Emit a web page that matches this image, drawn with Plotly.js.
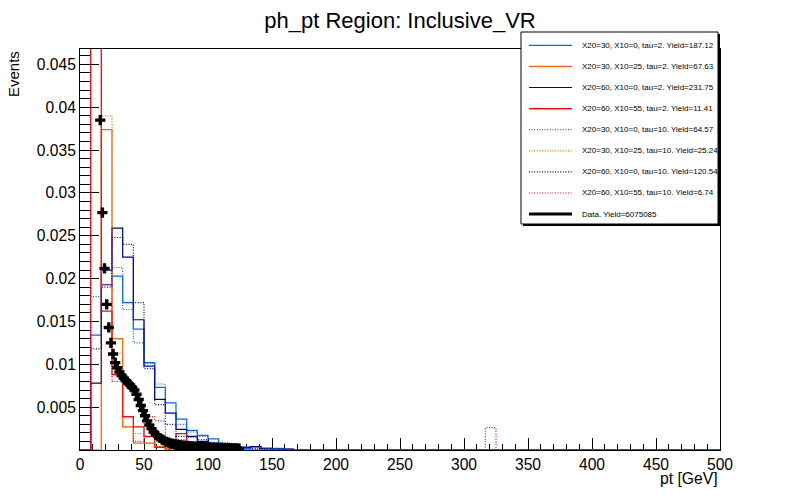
<!DOCTYPE html>
<html>
<head>
<meta charset="utf-8">
<script src="https://cdn.plot.ly/plotly-3.0.1.min.js"></script>
<style>html,body{margin:0;padding:0;background:#fff;}#chart{width:800px;height:500px;}</style>
</head>
<body>
<div id="chart"></div>
<script>
// ---------- data ----------
const xMin = 0, xMax = 500, nBins = 60;          // MC histogram binning
const dataBinWidth = 5 / 3;                      // data histogram binning
const dataFirstBin = 9;

const blueSolid = [0,0.0134,0.0193,0.0203,0.0172,0.0141,0.0102,0.0073,0.0055,0.0036,
  0.0023,0.0017,0.0013,0.0006,0.0004,0.0002,0.0004,0.0002,0.0002,0.0001,
  0,0,0,0,0,0,0,0,0,0, 0,0,0,0,0,0,0,0,0,0, 0,0,0,0,0,0,0,0,0,0, 0,0,0,0,0,0,0,0,0,0];
const orangeSolid = [0,0,0.0374,0.0130,0.0027,0.0008,0.0008,0.0004,0.0002,0.0001,
  0,0,0,0,0,0,0,0,0,0, 0,0,0,0,0,0,0,0,0,0, 0,0,0,0,0,0,0,0,0,0, 0,0,0,0,0,0,0,0,0,0, 0,0,0,0,0,0,0,0,0,0];
const navySolid = [0,0.0078,0.0210,0.0259,0.0225,0.0152,0.0098,0.0059,0.0043,0.0024,
  0.0016,0.0010,0.0007,0.0005,0.0004,0.0003,0.0004,0.0002,0.0001,0.0001,
  0,0,0,0,0,0,0,0,0,0, 0,0,0,0,0,0,0,0,0,0, 0,0,0,0,0,0,0,0,0,0, 0,0,0,0,0,0,0,0,0,0];
const redSolid = [0,0.1,0.0162,0.0088,0.0039,0.0027,0.0016,0.0003,0,0.0019,
  0,0,0,0,0,0,0,0,0,0, 0,0,0,0,0,0,0,0,0,0, 0,0,0,0,0,0,0,0,0,0, 0,0,0,0,0,0,0,0,0,0, 0,0,0,0,0,0,0,0,0,0];
const blueDotted = [0,0.0179,0.0193,0.0213,0.0164,0.0125,0.0101,0.0077,0.0043,0.0030,
  0.0021,0.0016,0.0009,0.0009,0.0005,0.0004,0.0003,0.0002,0.0001,0,
  0,0,0,0,0,0,0,0,0,0, 0,0,0,0,0,0,0,0,0,0, 0,0,0,0,0,0,0,0,0,0, 0,0,0,0,0,0,0,0,0,0];
const orangeDotted = [0,0,0.0390,0.0113,0.0027,0.0019,0.0008,0.0004,0.0002,0.0001,
  0,0,0,0,0,0,0,0,0,0, 0,0,0,0,0,0,0,0,0,0, 0,0,0,0,0,0,0,0,0,0, 0,0,0,0,0,0,0,0,0,0, 0,0,0,0,0,0,0,0,0,0];
const navyDotted = [0,0.0118,0.0190,0.0248,0.0240,0.0172,0.0095,0.0053,0.0030,0.0016,
  0.0015,0.0012,0.0007,0.0005,0.0004,0.0003,0.0002,0.0001,0,0,
  0,0,0,0,0,0,0,0,0,0, 0,0,0,0,0,0,0,0,0,0, 0,0,0,0,0,0,0,0,0,0, 0,0,0,0,0,0,0,0,0,0];
const redDotted = [0,0.1,0.0193,0.0080,0.0039,0.0010,0.0039,0.0034,0,0.0012,
  0,0,0,0,0,0,0,0,0,0, 0,0,0,0,0,0,0,0,0,0, 0,0,0,0,0,0,0,0,0.0026,0, 0,0,0,0,0,0,0,0,0,0, 0,0,0,0,0,0,0,0,0,0];

const dataValues = [0.0385,0.0277,0.0212,0.0170,0.0143,0.0125,0.0112,0.0102,0.0096,0.0091,
  0.0087,0.0084,0.0081,0.0078,0.0076,0.0073,0.0070,0.0065,0.0059,0.0052,
  0.0046,0.0040,0.0034,0.0029,0.0025,0.0021,0.0018,0.0016,0.0014,0.0012,
  0.0011,0.00095,0.00085,0.00078,0.00072,0.00066,0.00062,0.00058,0.00055,0.00052,
  0.00049,0.00047,0.00045,0.00043,0.00041,0.00039,0.00037,0.00036,0.00034,0.00033,
  0.00032,0.00030,0.00029,0.00028,0.00027,0.00026,0.00025,0.00024,0.00023,0.00022,
  0.00021,0.00021,0.00020,0.00019,0.00018,0.00017];

const legendLabels = [
  "X20=30, X10=0, tau=2. Yield=187.12",
  "X20=30, X10=25, tau=2. Yield=67.63",
  "X20=60, X10=0, tau=2. Yield=231.75",
  "X20=60, X10=55, tau=2. Yield=11.41",
  "X20=30, X10=0, tau=10. Yield=64.57",
  "X20=30, X10=25, tau=10. Yield=25.24",
  "X20=60, X10=0, tau=10. Yield=120.54",
  "X20=60, X10=55, tau=10. Yield=6.74",
  "Data. Yield=6075085"
];

const xTickVals = [0,50,100,150,200,250,300,350,400,450,500];
const xTickText = ["0","50","100","150","200","250","300","350","400","450","500"];
const yTickVals = [0.005,0.01,0.015,0.02,0.025,0.03,0.035,0.04,0.045];
const yTickText = ["0.005","0.01","0.015","0.02","0.025","0.03","0.035","0.04","0.045"];

const titleText = "ph_pt Region: Inclusive_VR";
const xTitle = "pt [GeV]";
const yTitle = "Events";

// ---------- styles ----------
const BLUE = "#0066ff", ORANGE = "#ff6600", NAVY = "#000099", RED = "#ff0000";
const DOT = "1px,1.6px";
const FONT = "Liberation Sans, Arial, Helvetica, sans-serif";

const mcSeries = [
  [blueSolid, BLUE, "solid"], [orangeSolid, ORANGE, "solid"],
  [navySolid, NAVY, "solid"], [redSolid, RED, "solid"],
  [blueDotted, BLUE, DOT], [orangeDotted, ORANGE, DOT],
  [navyDotted, NAVY, DOT], [redDotted, RED, DOT]
];

// build step outline from bins
function stepTrace(vals, color, dash, name) {
  const w = (xMax - xMin) / nBins;
  const xs = [xMin], ys = [0];
  for (let i = 0; i < vals.length; i++) { xs.push(xMin + i * w); ys.push(vals[i]); }
  xs.push(xMin + vals.length * w); ys.push(vals[vals.length - 1]);
  xs.push(xMin + vals.length * w); ys.push(0);
  return { type: "scatter", mode: "lines", x: xs, y: ys, name: name,
    line: { shape: "hv", color: color, width: 1.2, dash: dash },
    showlegend: false, hoverinfo: "skip" };
}

const traces = mcSeries.map((s, i) => stepTrace(s[0], s[1], s[2], legendLabels[i]));
const dataX = dataValues.map((v, i) => (dataFirstBin + i + 0.5) * dataBinWidth);
traces.push({ type: "scatter", mode: "markers", x: dataX, y: dataValues, name: legendLabels[8],
  marker: { symbol: "cross", size: 8.5, color: "black", line: { width: 0 } },
  showlegend: false, cliponaxis: true });

// ---------- legend (drawn as shapes + text) ----------
const L = 80, T = 49, PW = 640, PH = 401;
const px = x => (x - L) / PW;
const py = y => (T + PH - y) / PH;
const shapes = [];
const annotations = [];
shapes.push({ type: "rect", xref: "paper", yref: "paper", layer: "above",
  x0: px(523), x1: px(720), y0: py(226), y1: py(34), fillcolor: "black", line: { width: 0 } });
shapes.push({ type: "rect", xref: "paper", yref: "paper", layer: "above",
  x0: px(521), x1: px(718), y0: py(224), y1: py(32), fillcolor: "white", line: { color: "black", width: 1 } });
const legendStyles = mcSeries.map(s => [s[1], s[2], 1.2]).concat([["black", "solid", 3]]);
for (let i = 0; i < legendLabels.length; i++) {
  const yy = 45.3 + i * 21.1;
  shapes.push({ type: "line", xref: "paper", yref: "paper", layer: "above",
    x0: px(529), x1: px(572), y0: py(yy), y1: py(yy),
    line: { color: legendStyles[i][0], dash: legendStyles[i][1], width: legendStyles[i][2] } });
  annotations.push({ xref: "paper", yref: "paper", x: px(580), y: py(yy), xanchor: "left", yanchor: "middle",
    text: legendLabels[i], showarrow: false, font: { family: FONT, size: 8, color: "black" } });
}
annotations.push({ xref: "paper", yref: "paper", x: px(13), y: 1, xanchor: "center", yanchor: "top",
  text: yTitle, textangle: -90, showarrow: false, font: { family: FONT, size: 15, color: "black" } });
annotations.push({ xref: "paper", yref: "paper", x: px(720), y: py(478), xanchor: "right", yanchor: "middle",
  text: xTitle, showarrow: false, font: { family: FONT, size: 15.7, color: "black" } });

const layout = {
  width: 800, height: 500,
  margin: { l: L, r: 80, t: T, b: 50, pad: 0 },
  paper_bgcolor: "white", plot_bgcolor: "white",
  font: { family: FONT, color: "black" },
  title: { text: titleText, font: { family: FONT, size: 22, color: "black" },
    x: 0.5, xanchor: "center", y: 0.96, yanchor: "middle", xref: "paper" },
  xaxis: { range: [xMin, xMax], showgrid: false, zeroline: false, showline: true, mirror: true,
    layer: "below traces",
    linecolor: "black", linewidth: 1, ticks: "inside", ticklen: 12, tickwidth: 1, tickcolor: "black",
    tickmode: "array", tickvals: xTickVals, ticktext: xTickText,
    tickfont: { family: FONT, size: 15.6, color: "black" },
    minor: { ticks: "inside", ticklen: 6, tickwidth: 1, tickcolor: "black", dtick: 10, tick0: 0, showgrid: false } },
  yaxis: { range: [0, 0.0468], showgrid: false, zeroline: false, showline: true, mirror: true,
    linecolor: "black", linewidth: 1, ticks: "inside", ticklen: 19, tickwidth: 1, tickcolor: "black",
    tickmode: "array", tickvals: yTickVals, ticktext: yTickText,
    tickfont: { family: FONT, size: 15.6, color: "black" },
    minor: { ticks: "inside", ticklen: 9.5, tickwidth: 1, tickcolor: "black", dtick: 0.001, tick0: 0, showgrid: false } },
  shapes: shapes, annotations: annotations, showlegend: false
};

Plotly.newPlot("chart", traces, layout, { staticPlot: true, displayModeBar: false });
</script>
</body>
</html>
